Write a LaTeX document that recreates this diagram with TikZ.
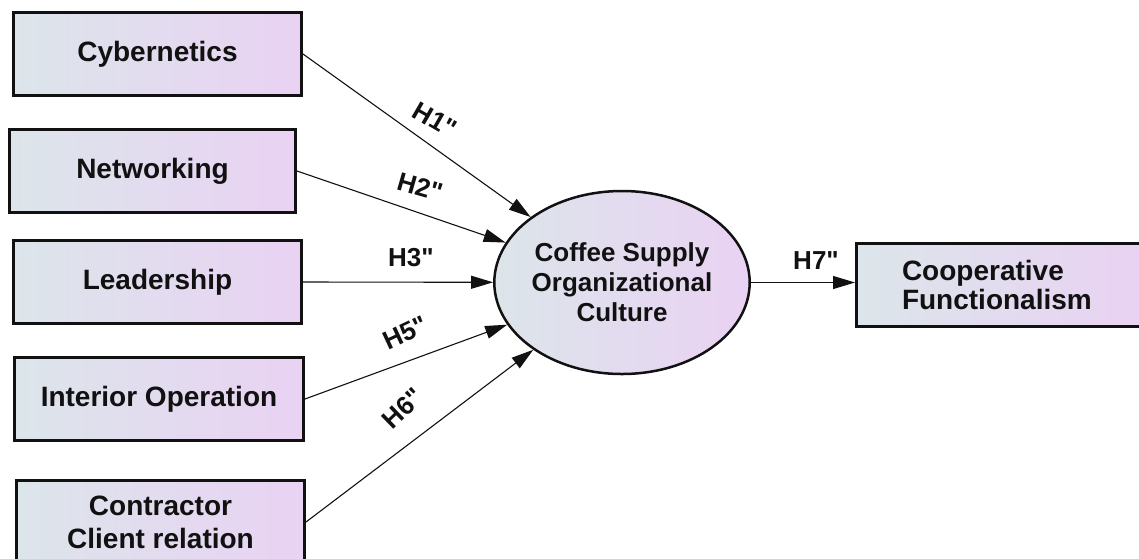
\documentclass[tikz,border=0pt]{standalone}
\usepackage{fontspec}
\setmainfont{Liberation Sans}
\newfontfamily\hypfont{Liberation Sans}
\usetikzlibrary{shapes.geometric,arrows.meta}
\definecolor{gleft}{HTML}{DCE5EA}
\definecolor{gright}{HTML}{E9D2F3}
\definecolor{ink}{HTML}{111111}
\begin{document}
\begin{tikzpicture}[x=1pt,y=-1pt,
  varbox/.style={draw=ink, line width=3pt, left color=gleft, right color=gright,
    minimum height=83pt, inner sep=0pt, align=center, text=ink,
    font=\fontsize{28}{33}\selectfont\bfseries},
  latent/.style={ellipse, draw=ink, line width=2.5pt, left color=gleft, right color=gright,
    minimum width=208pt, minimum height=183pt, inner sep=0pt, align=center, text=ink,
    font=\fontsize{26}{30}\selectfont\bfseries},
  path/.style={line width=1.1pt, draw=ink, -{Triangle[length=22pt,width=13pt]}},
  hyp/.style={text=ink, inner sep=0pt, font=\hypfont\fontsize{26}{30}\selectfont\bfseries}
]
\useasboundingbox (0,0) rectangle (1139,558);
\clip (0,0) rectangle (1139,558);

\node[varbox, minimum width=288pt] (cyb) at (157.5,54) {Cybernetics};
\node[varbox, minimum width=286pt] (net) at (152.5,171) {Networking};
\node[varbox, minimum width=288pt] (lead) at (157.5,282) {Leadership};
\node[varbox, minimum width=289pt] (int) at (159,399) {Interior Operation};
\node[varbox, minimum width=288pt] (con) at (160.5,522) {Contractor\\Client relation};

\node[latent] (osc) at (622,282.5) {Coffee Supply\\Organizational\\Culture};

\node[varbox, minimum width=287pt, text width=196pt, align=left,
  font=\fontsize{28}{30}\selectfont\bfseries] (coop) at (1000,285) {Cooperative\\[-1pt]Functionalism};

\draw[path] (cyb.east) -- (osc);
\draw[path] (net.east) -- (osc);
\draw[path] (lead.east) -- (osc);
\draw[path] (int.east) -- (osc);
\draw[path] (con.east) -- (osc);
\draw[path] (osc.east) -- (osc.east -| coop.west);

\node[hyp, rotate=-30] (h1) at (435,120) {H1"};
\node[hyp, rotate=-16] (h2) at (420,187) {H2"};
\node[hyp] (h3) at (411,258) {H3"};
\node[hyp, rotate=25] (h5) at (405,333) {H5"};
\node[hyp, rotate=44] (h6) at (403,408) {H6"};
\node[hyp] (h7) at (816,261) {H7"};
\end{tikzpicture}
\end{document}
